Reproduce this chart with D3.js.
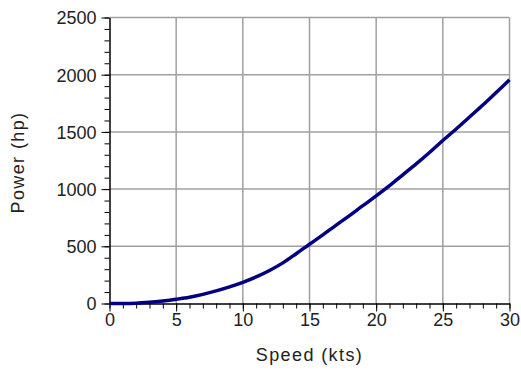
<!DOCTYPE html>
<html lang="en">
<head>
  <meta charset="UTF-8" />
  <title>Power vs Speed</title>
  <script src="https://d3js.org/d3.v7.min.js"></script>
  <style>
    body { margin: 0; background: #fff; font-family: "Liberation Sans", Arial, sans-serif; }
    .grid line { stroke: #a0a0a0; stroke-width: 1.5; }
    .axis text { font-size: 18px; fill: #222; }
    .axis path, .axis line { stroke: #000; }
    .label { font-size: 18px; letter-spacing: 1.4px; fill: #222; }
  </style>
</head>
<body>
  <svg id="chart" width="521" height="371"></svg>

  <script>
    const speeds = [0, 1, 2, 3, 4, 5, 6, 7, 8, 9, 10, 11, 12, 13, 14, 15,
      16, 17, 18, 19, 20, 21, 22, 23, 24, 25, 26, 27, 28, 29, 30];
    const power = [0, 0, 2, 10, 22, 37, 55, 80, 110, 145, 185, 232, 288, 355, 435, 518,
      600, 685, 768, 855, 940, 1030, 1125, 1220, 1320, 1425, 1525, 1630, 1735, 1845, 1955];
    const xTicks = [0, 5, 10, 15, 20, 25, 30];
    const yTicks = [0, 500, 1000, 1500, 2000, 2500];

    const plotLeft = 109.5, plotRight = 509.5, plotTop = 17.5, plotBottom = 303.5;
    const svg = d3.select("#chart");

    const x = d3.scaleLinear().domain([0, 30]).range([plotLeft, plotRight]);
    const y = d3.scaleLinear().domain([0, 2500]).range([plotBottom, plotTop]);

    // grid
    const grid = svg.append("g").attr("class", "grid");
    grid.selectAll("line.v")
      .data(xTicks.slice(1))
      .join("line")
      .attr("class", "v")
      .attr("x1", d => x(d)).attr("x2", d => x(d))
      .attr("y1", plotTop).attr("y2", plotBottom);
    grid.selectAll("line.h")
      .data(yTicks.slice(1))
      .join("line")
      .attr("class", "h")
      .attr("x1", plotLeft).attr("x2", plotRight)
      .attr("y1", d => y(d)).attr("y2", d => y(d));

    // minor ticks
    svg.append("g")
      .attr("class", "axis")
      .attr("transform", `translate(0,${plotBottom})`)
      .call(d3.axisBottom(x).ticks(30).tickSize(5).tickFormat(""))
      .call(g => g.select(".domain").remove());
    svg.append("g")
      .attr("class", "axis")
      .attr("transform", `translate(${plotLeft},0)`)
      .call(d3.axisLeft(y).ticks(25).tickSize(5).tickFormat(""))
      .call(g => g.select(".domain").remove());

    // major ticks + labels
    svg.append("g")
      .attr("class", "axis")
      .attr("transform", `translate(0,${plotBottom})`)
      .call(d3.axisBottom(x).tickValues(xTicks).tickSize(8).tickPadding(2)
        .tickSizeOuter(0).tickFormat(d3.format("d")))
      .call(g => g.select(".domain").attr("stroke-width", 1.5));
    svg.append("g")
      .attr("class", "axis")
      .attr("transform", `translate(${plotLeft},0)`)
      .call(d3.axisLeft(y).tickValues(yTicks).tickSize(8).tickPadding(5)
        .tickSizeOuter(0).tickFormat(d3.format("d")))
      .call(g => g.select(".domain").attr("stroke-width", 1.5))
      .call(g => g.selectAll("text").attr("dy", "0.35em"));

    // curve
    svg.append("path")
      .datum(speeds.map((s, i) => [s, power[i]]))
      .attr("fill", "none")
      .attr("stroke", "#000080")
      .attr("stroke-width", 3.5)
      .attr("d", d3.line().x(d => x(d[0])).y(d => y(d[1])).curve(d3.curveMonotoneX));

    // axis titles
    svg.append("text")
      .attr("class", "label")
      .attr("x", (plotLeft + plotRight) / 2)
      .attr("y", 361)
      .attr("text-anchor", "middle")
      .text("Speed (kts)");
    svg.append("text")
      .attr("class", "label")
      .attr("transform", `translate(24,${(plotTop + plotBottom) / 2 + 2}) rotate(-90)`)
      .attr("text-anchor", "middle")
      .text("Power (hp)");
  </script>
</body>
</html>
